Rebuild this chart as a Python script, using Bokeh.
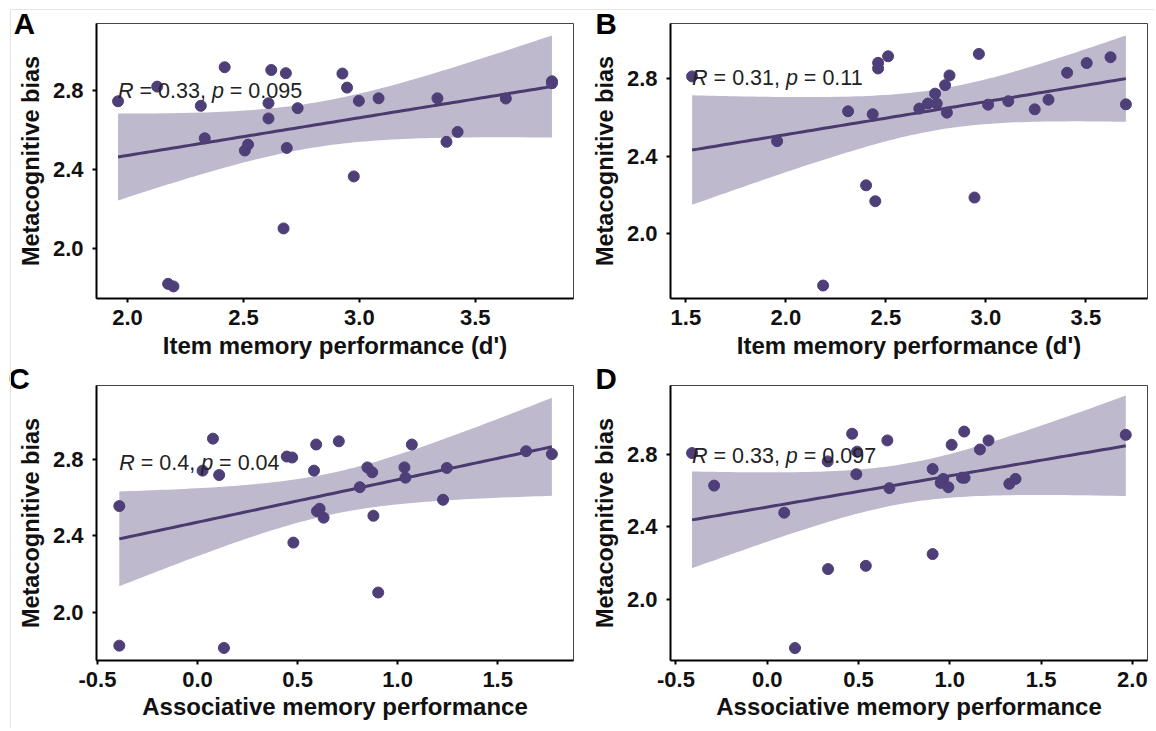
import numpy as np
from bokeh.plotting import figure
from bokeh.layouts import gridplot
from bokeh.models import ColumnDataSource, Range1d, FixedTicker, PrintfTickFormatter, InlineStyleSheet
from bokeh.core.properties import value
from bokeh.embed import file_html
from bokeh.resources import INLINE

# ---------------- data ----------------
# Panel A: item memory performance (d') vs metacognitive bias
a_x = [1.959, 2.128, 2.175, 2.198, 2.316, 2.333, 2.419, 2.506, 2.520, 2.608, 2.608,
       2.620, 2.673, 2.683, 2.687, 2.734, 2.927, 2.947, 2.976, 2.998, 3.083, 3.337,
       3.376, 3.424, 3.632, 3.831, 3.831]
a_y = [2.746, 2.820, 1.823, 1.810, 2.723, 2.559, 2.918, 2.497, 2.527, 2.736, 2.659,
       2.904, 2.103, 2.888, 2.510, 2.711, 2.886, 2.815, 2.366, 2.748, 2.761, 2.761,
       2.541, 2.591, 2.760, 2.847, 2.837]

# Panel B: item memory performance (d') vs metacognitive bias
b_x = [1.531, 1.956, 2.186, 2.311, 2.401, 2.434, 2.447, 2.461, 2.461, 2.511, 2.667,
       2.710, 2.746, 2.754, 2.796, 2.805, 2.818, 2.943, 2.965, 3.011, 3.112, 3.244,
       3.313, 3.406, 3.504, 3.623, 3.700]
b_y = [2.812, 2.478, 1.733, 2.632, 2.250, 2.617, 2.168, 2.882, 2.853, 2.916, 2.646,
       2.672, 2.723, 2.672, 2.767, 2.625, 2.817, 2.187, 2.928, 2.666, 2.684, 2.642,
       2.692, 2.831, 2.881, 2.911, 2.668]

# Panel C: associative memory performance vs metacognitive bias
c_x = [-0.391, -0.391, 0.025, 0.077, 0.108, 0.132, 0.446, 0.473, 0.479, 0.582, 0.593,
       0.597, 0.610, 0.630, 0.706, 0.811, 0.849, 0.873, 0.879, 0.903, 1.034, 1.039,
       1.071, 1.227, 1.246, 1.642, 1.771]
c_y = [2.557, 1.824, 2.743, 2.911, 2.720, 1.812, 2.817, 2.812, 2.365, 2.743, 2.880,
       2.530, 2.543, 2.496, 2.897, 2.656, 2.760, 2.734, 2.506, 2.103, 2.760, 2.706,
       2.880, 2.590, 2.757, 2.845, 2.830]

# Panel D: associative memory performance vs metacognitive bias
d_x = [-0.412, -0.291, 0.093, 0.152, 0.331, 0.333, 0.465, 0.488, 0.492, 0.540, 0.658,
       0.669, 0.906, 0.906, 0.950, 0.964, 0.992, 1.010, 1.067, 1.079, 1.081, 1.165,
       1.212, 1.326, 1.360, 1.964]
d_y = [2.809, 2.629, 2.479, 1.730, 2.763, 2.167, 2.916, 2.692, 2.817, 2.185, 2.879,
       2.615, 2.721, 2.250, 2.644, 2.666, 2.620, 2.855, 2.673, 2.928, 2.672, 2.829,
       2.879, 2.639, 2.666, 2.910]

panel_letters = ["A", "B", "C", "D"]
x_titles = ["Item memory performance (d')", "Item memory performance (d')",
            "Associative memory performance", "Associative memory performance"]
y_title = "Metacognitive bias"
r_values = ["0.33", "0.31", "0.4", "0.33"]
p_values = ["0.095", "0.11", "0.04", "0.097"]
x_ticks = [[2.0, 2.5, 3.0, 3.5], [1.5, 2.0, 2.5, 3.0, 3.5],
           [-0.5, 0.0, 0.5, 1.0, 1.5], [-0.5, 0.0, 0.5, 1.0, 1.5, 2.0]]
y_ticks = [2.0, 2.4, 2.8]

# axis ranges
x_ranges = [(1.866, 3.924), (1.423, 3.808), (-0.505, 1.879), (-0.530, 2.083)]
y_ranges = [(1.749, 3.139), (1.666, 3.085), (1.746, 3.190), (1.661, 3.183)]
# baseline of the correlation label (data units)
stat_y = [2.797, 2.805, 2.783, 2.791]

# ---------------- styling ----------------
PT_COL = "#4E3F78"
LN_COL = "#4A3A6E"
BAND_COL = "#BEB9CD"
FONT = "Liberation Sans"
T_CRIT = {23: 2.0687, 24: 2.0639, 25: 2.0595, 26: 2.0555}

# Arial / Liberation Sans advance widths (per 1000 em)
ADV = {" ": 278, "=": 584, ".": 278, ",": 278, "R": 722, "p": 556}
for dch in "0123456789":
    ADV[dch] = 556


def text_w(s, size):
    return sum(ADV[ch] for ch in s) * size / 1000.0


# layout of the four figures: (width, height, left, right, top, bottom)
geom = [
    (574, 363, 96, 1, 23, 65),
    (580, 363, 96, 7, 23, 65),
    (574, 365, 96, 1, 22, 68),
    (580, 365, 96, 7, 22, 68),
]
x_label_standoff = [4, 4, 3, 3]
# panel letter: horizontal offset from frame left, title standoff (negative pulls it down)
letter_off = [(-82.7, -33), (-75, -33), (-88, -19), (-75, -19)]

xs_all = [a_x, b_x, c_x, d_x]
ys_all = [a_y, b_y, c_y, d_y]

figs = []
for i in range(4):
    xv = np.array(xs_all[i], dtype=float)
    yv = np.array(ys_all[i], dtype=float)
    W, H, bl, br, bt, bb = geom[i]
    x0, x1 = x_ranges[i]
    y0, y1 = y_ranges[i]
    p = figure(width=W, height=H, output_backend="svg", toolbar_location=None,
               x_range=Range1d(x0, x1), y_range=Range1d(y0, y1),
               min_border_left=bl, min_border_right=br,
               min_border_top=bt, min_border_bottom=bb,
               background_fill_color="white", border_fill_color="white")
    p.grid.visible = False
    p.outline_line_color = "#444444"
    p.outline_line_width = 1

    # panel letter as the figure title
    dx, so = letter_off[i]
    p.title.text = panel_letters[i]
    p.title.align = "left"
    p.title.vertical_align = "bottom"
    p.title.offset = dx
    p.title.standoff = so
    p.title.text_font = FONT
    p.title.text_font_style = "bold"
    p.title.text_font_size = "29.5px"
    p.title.text_color = "black"

    # linear fit with 95% confidence band (as geom_smooth(method = "lm"))
    n = len(xv)
    xm, ym = xv.mean(), yv.mean()
    sxx = ((xv - xm) ** 2).sum()
    slope = ((xv - xm) * (yv - ym)).sum() / sxx
    icpt = ym - slope * xm
    resid = yv - (icpt + slope * xv)
    s = np.sqrt((resid ** 2).sum() / (n - 2))
    gx = np.linspace(xv.min(), xv.max(), 80)
    fit = icpt + slope * gx
    se = s * np.sqrt(1.0 / n + (gx - xm) ** 2 / sxx)
    t = T_CRIT.get(n - 2, 2.06)
    band = ColumnDataSource(dict(x=gx, lo=fit - t * se, hi=fit + t * se, fit=fit))

    p.varea(x="x", y1="lo", y2="hi", source=band, fill_color=BAND_COL, fill_alpha=1.0)
    p.line(x="x", y="fit", source=band, line_color=LN_COL, line_width=3)
    p.scatter(x=xv, y=yv, size=11, fill_color=PT_COL, line_color=PT_COL)

    # correlation label: R = .., p = ..  (R and p italic)
    fs = 21.5
    r_str = "R = " + r_values[i] + ", "
    lx = xv.min()
    ly = stat_y[i]
    pieces = [
        ("R", 0.0, "italic"),
        ("= " + r_values[i] + ",", text_w("R ", fs), "normal"),
        ("p", text_w(r_str, fs), "italic"),
        ("= " + p_values[i], text_w(r_str + "p ", fs), "normal"),
    ]
    for txt, off, sty in pieces:
        p.text(x=[lx], y=[ly], text=[txt], x_offset=off,
               text_font=value(FONT), text_font_size="21.5px", text_font_style=sty,
               text_color="#222222", text_baseline="alphabetic", text_align="left")

    # axes
    p.xaxis.ticker = FixedTicker(ticks=x_ticks[i])
    p.yaxis.ticker = FixedTicker(ticks=y_ticks)
    p.xaxis.formatter = PrintfTickFormatter(format="%.1f")
    p.yaxis.formatter = PrintfTickFormatter(format="%.1f")
    for ax in (p.xaxis, p.yaxis):
        ax.axis_line_color = "black"
        ax.axis_line_width = 2
        ax.major_tick_line_color = "black"
        ax.major_tick_line_width = 2
        ax.major_tick_out = 4
        ax.major_tick_in = 0
        ax.minor_tick_out = 0
        ax.minor_tick_in = 0
        ax.major_label_text_font = FONT
        ax.major_label_text_font_style = "bold"
        ax.major_label_text_font_size = "22px"
        ax.major_label_text_color = "#111111"
        ax.axis_label_text_font = FONT
        ax.axis_label_text_font_style = "bold"
        ax.axis_label_text_color = "#111111"
    p.xaxis.major_label_standoff = 7
    p.yaxis.major_label_standoff = 9
    p.xaxis.axis_label = x_titles[i]
    p.yaxis.axis_label = y_title
    p.xaxis.axis_label_text_font_size = "24px"
    p.yaxis.axis_label_text_font_size = "23.5px"
    p.xaxis.axis_label_standoff = x_label_standoff[i]
    p.yaxis.axis_label_standoff = 6
    figs.append(p)

grid = gridplot([[figs[0], figs[1]], [figs[2], figs[3]]], toolbar_location=None)
# faint frame lines of the original figure (top and left edges)
grid.stylesheets = [InlineStyleSheet(css=(
    ":host::after { content: ''; position: absolute; left: 10px; top: 9px; "
    "right: 0; bottom: 0; border-left: 1px solid #e4e4e4; border-top: 1px solid #e4e4e4; "
    "pointer-events: none; z-index: 10; }"))]

open("out.html", "w").write(file_html(grid, INLINE))
